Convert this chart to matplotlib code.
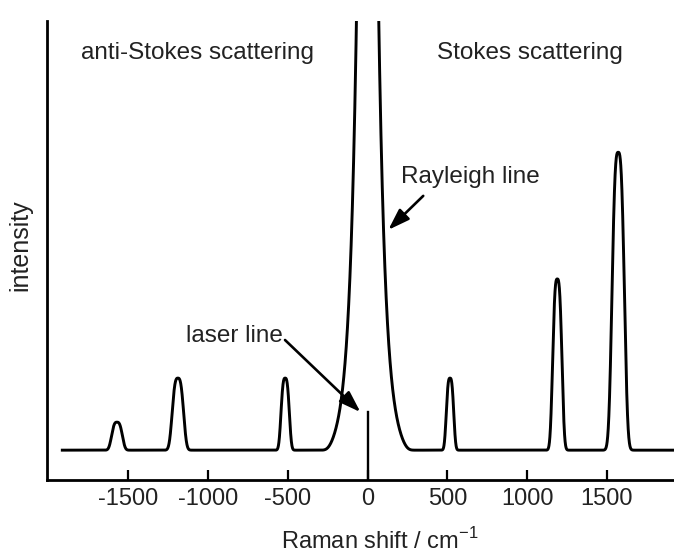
import numpy as np
import matplotlib
matplotlib.use("Agg")
import matplotlib.pyplot as plt
from matplotlib.patches import ArrowStyle

plt.rcParams['font.family'] = ['Liberation Sans', 'DejaVu Sans']
plt.rcParams['mathtext.fontset'] = 'custom'
plt.rcParams['mathtext.rm'] = 'Liberation Sans'

# ---- data ----
peak_positions = [-1572, -1190, -517, 517, 1190, 1572]     # cm^-1
peak_heights = [6.1, 15.7, 15.7, 15.7, 37.3, 64.9]         # above baseline
peak_widths = [31, 33, 24, 21.5, 27, 36]                    # cm^-1
peak_shape_power = 3
baseline_level = 6.5
rayleigh_amplitude = 443.0
rayleigh_decay = 45.0
rayleigh_cutoff = 246.0
laser_line_height = 14.8
spectrum_range = [-1915, 1922]
xticks = [-1500, -1000, -500, 0, 500, 1000, 1500]
xtick_labels = ['-1500', '-1000', '-500', '0', '500', '1000', '1500']

x = np.linspace(spectrum_range[0], spectrum_range[1], 8000)
y = np.full_like(x, baseline_level)
for p, h, s in zip(peak_positions, peak_heights, peak_widths):
    y += h * np.exp(-0.5 * np.abs((x - p) / s) ** peak_shape_power)
y += rayleigh_amplitude * np.exp(-np.abs(x) / rayleigh_decay) * np.exp(-(x / rayleigh_cutoff) ** 10)

W, H = 674, 554
fig = plt.figure(figsize=(W / 100, H / 100), dpi=100)
ax = fig.add_axes([47 / W, 1 - 480 / H, 1 - 47 / W, (480 - 21) / H])

ax.plot(x, y, color='black', lw=2.1, solid_joinstyle='round', clip_on=True)
ax.plot([0, 0], [0, laser_line_height], color='black', lw=1.7)

ax.set_xlim(-2011, 1922)
ax.set_ylim(0, 100)

for s in ['top', 'right']:
    ax.spines[s].set_visible(False)
for s in ['left', 'bottom']:
    ax.spines[s].set_linewidth(2.0)
ax.set_yticks([])
ax.set_xticks(xticks)
ax.set_xticklabels(xtick_labels, fontsize=17, color='#222222')
ax.tick_params(axis='x', direction='in', length=7.5, width=1.6, pad=6)

tc = '#222222'
ax.text(-1800, 93.0, 'anti-Stokes scattering', fontsize=17.5, color=tc, ha='left', va='center')
ax.text(433, 93.0, 'Stokes scattering', fontsize=17.5, color=tc, ha='left', va='center')
ax.text(-530, 31.3, 'laser line', fontsize=17.5, color=tc, ha='right', va='center')
ax.text(208, 66.1, 'Rayleigh line', fontsize=17.5, color=tc, ha='left', va='center')

astyle = ArrowStyle('-|>', head_length=0.5, head_width=0.17)
ax.annotate('', xy=(-45, 14.8), xytext=(-518, 30.5),
            arrowprops=dict(arrowstyle=astyle, mutation_scale=26, lw=1.9,
                            color='black', shrinkA=0, shrinkB=0))
ax.annotate('', xy=(130, 54.5), xytext=(349, 61.9),
            arrowprops=dict(arrowstyle=astyle, mutation_scale=26, lw=1.9,
                            color='black', shrinkA=0, shrinkB=0))

fig.text(380 / W, 1 - 541 / H, r'Raman shift / cm$^{\mathregular{-1}}$', fontsize=17,
         color=tc, ha='center', va='center')
fig.text(20 / W, 1 - 245 / H, 'intensity', fontsize=18, color=tc, ha='center',
         va='center', rotation=90)

fig.savefig('out.png', dpi=100)
